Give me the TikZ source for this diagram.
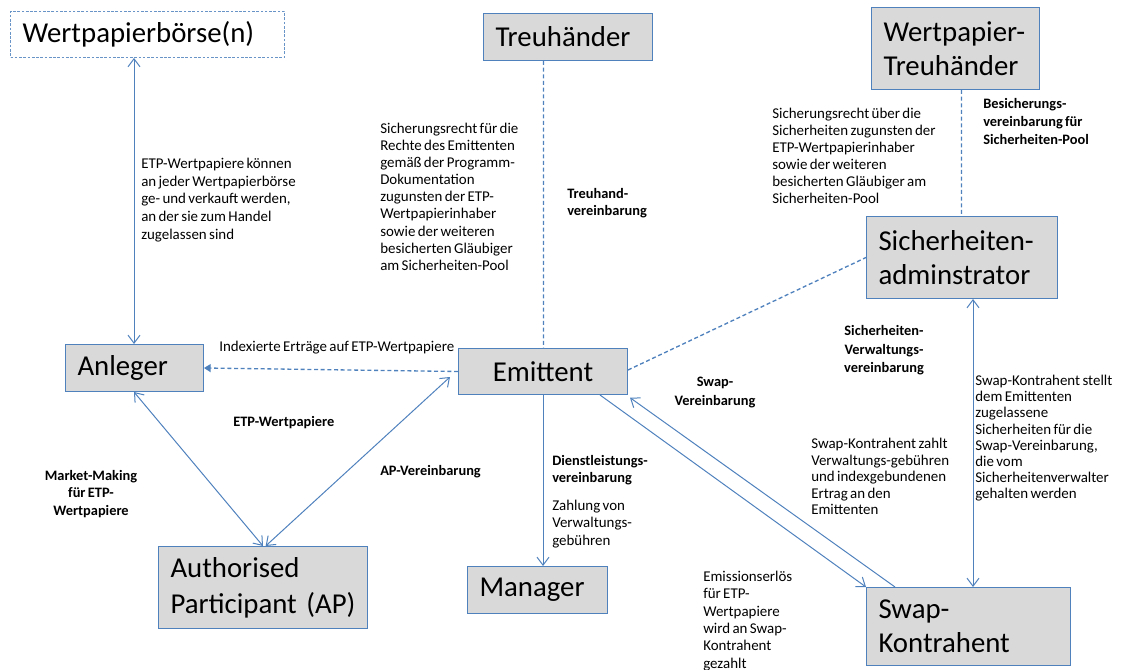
\documentclass[tikz,border=0pt]{standalone}
\usepackage{fontspec}
\setmainfont{Carlito}
\newfontfamily\smallfnt[WordSpace=0.7]{Carlito}
\usetikzlibrary{arrows.meta}
\definecolor{lineblue}{RGB}{79,129,189}
\definecolor{boxgray}{RGB}{217,217,217}
\tikzset{
  box/.style={draw=lineblue, fill=boxgray, line width=0.75pt,
    font=\fontsize{21.6pt}{25.5pt}\selectfont, align=left,
    inner xsep=9pt, inner ysep=0pt, anchor=north west},
  lbl/.style={font=\smallfnt\fontsize{11.2pt}{#1}\selectfont, align=left,
    inner sep=0pt, anchor=north west},
  lbl/.default=12.8pt,
  blbl/.style={font=\smallfnt\bfseries\fontsize{10.8pt}{#1}\selectfont, align=left,
    inner sep=0pt, anchor=north west},
  blbl/.default=13.5pt,
  link/.style={draw=lineblue, line width=0.75pt},
  dlink/.style={draw=lineblue, line width=1pt, dash pattern=on 3pt off 2pt},
  barb/.style={-{Straight Barb[length=6pt,width=9pt]}},
  barbs/.style={{Straight Barb[length=6pt,width=9pt]}-{Straight Barb[length=6pt,width=9pt]}},
}
\begin{document}
\begin{tikzpicture}[x=0.75pt,y=-0.75pt]
\useasboundingbox (0,0) rectangle (1121,670);
% boxes
\node[box, fill=white, draw=lineblue!85, dash pattern=on 2pt off 1.2pt,
  text width=187.5pt, minimum height=34.5pt] (WB) at (10,11) {Wertpapierbörse(n)};
\node[box, text width=108.75pt, minimum height=35.25pt] (TH) at (483,13) {Treuhänder};
\node[box, text width=108pt, minimum height=61.5pt] (WT) at (871,7) {Wertpapier-\\Treuhänder};
\node[box, text width=125.25pt, minimum height=61.5pt] (SA) at (866,216) {Sicherheiten-\\adminstrator};
\node[box, text width=85.5pt, minimum height=35.25pt] (AN) at (65,344) {Anleger};
\node[box, align=center, text width=108.75pt, minimum height=34.5pt] (EM) at (458,348) {Emittent};
\node[box, font=\fontsize{21.6pt}{27pt}\selectfont, text width=138.75pt, minimum height=61.5pt] (AP) at (158,546) {Authorised\\Participant (AP)};
\node[box, text width=87pt, minimum height=35.25pt] (MG) at (467,566) {Manager};
\node[box, text width=135pt, minimum height=58.5pt] (SK) at (866,587) {Swap-\\Kontrahent};

% connectors
\draw[link, barbs] ([xshift=93pt]WB.south west) -- ([xshift=51.75pt]AN.north west);
\draw[dlink] ([xshift=45.4pt]TH.south west) -- ([xshift=64.1pt]EM.north west);
\draw[dlink] ([xshift=67.9pt]WT.south west) -- ([xshift=71.6pt]SA.north west);
\draw[dlink] ([yshift=-16.5pt]EM.north east) -- (SA.west);
\draw[dlink, -{Triangle[length=5pt,width=6pt]}] (EM.west) -- (AN.east);
\draw[link, barbs] ([xshift=51.75pt]AN.south west) -- (AP.north);
\draw[link, barbs] ([xshift=2pt]AP.north) -- ([xshift=-6pt,yshift=-21.75pt]EM.north west);
\draw[link, barb] ([xshift=63.75pt]EM.south west) -- ([xshift=57pt]MG.north west);
\draw[link, barb] ([xshift=106.5pt]EM.south west) -- (SK.north west);
\draw[link, barb] ([xshift=21.75pt]SK.north west) -- ([xshift=1.5pt,yshift=-2pt]EM.south east);
\draw[link, barbs] ([xshift=80.25pt]SA.south west) -- ([xshift=80.25pt]SK.north west);

% labels
\node[lbl=13.2pt] (t1) at (141,158) {ETP-Wertpapiere können\\an jeder Wertpapierbörse\\ge- und verkauft werden,\\an der sie zum Handel\\zugelassen sind};
\node[lbl] (t2) at (380,123) {Sicherungsrecht für die\\Rechte des Emittenten\\gemäß der Programm-\\Dokumentation\\zugunsten der ETP-\\Wertpapierinhaber\\sowie der weiteren\\besicherten Gläubiger\\am Sicherheiten-Pool};
\node[blbl=12.8pt] (t3) at (567,188) {Treuhand-\\vereinbarung};
\node[lbl=12.7pt] (t4) at (772,108) {Sicherungsrecht über die\\Sicherheiten zugunsten der\\ETP-Wertpapierinhaber\\sowie der weiteren\\besicherten Gläubiger am\\Sicherheiten-Pool};
\node[blbl] (t5) at (983,98) {Besicherungs-\\vereinbarung  für\\Sicherheiten-Pool};
\node[lbl] (t6) at (219,341) {Indexierte Erträge auf ETP-Wertpapiere};
\node[blbl] (t7) at (233,416) {ETP-Wertpapiere};
\node[blbl] (t8) at (380,465) {AP-Vereinbarung};
\node[blbl=13.2pt, align=center, anchor=north] (t9) at (91,470) {Market-Making\\für ETP-\\Wertpapiere};
\node[blbl=12.8pt] (t10) at (552,455) {Dienstleistungs-\\vereinbarung};
\node[lbl=13pt] (t11) at (552,500) {Zahlung von\\Verwaltungs-\\gebühren};
\node[blbl=14pt, align=center, anchor=north] (t12) at (715,377) {Swap-\\Vereinbarung};
\node[blbl=14pt, align=center, anchor=north] (t13) at (884,325) {Sicherheiten-\\Verwaltungs-\\vereinbarung};
\node[lbl=12.4pt] (t14) at (811,438) {Swap-Kontrahent zahlt\\Verwaltungs-gebühren\\und indexgebundenen\\Ertrag an den\\Emittenten};
\node[lbl=12.1pt] (t15) at (975,375) {Swap-Kontrahent stellt\\dem Emittenten\\zugelassene\\Sicherheiten für die\\Swap-Vereinbarung,\\die vom\\Sicherheitenverwalter\\gehalten werden};
\node[lbl=13pt] (t16) at (703,571) {Emissionserlös\\für ETP-\\Wertpapiere\\wird an Swap-\\Kontrahent\\gezahlt};
\end{tikzpicture}
\end{document}
